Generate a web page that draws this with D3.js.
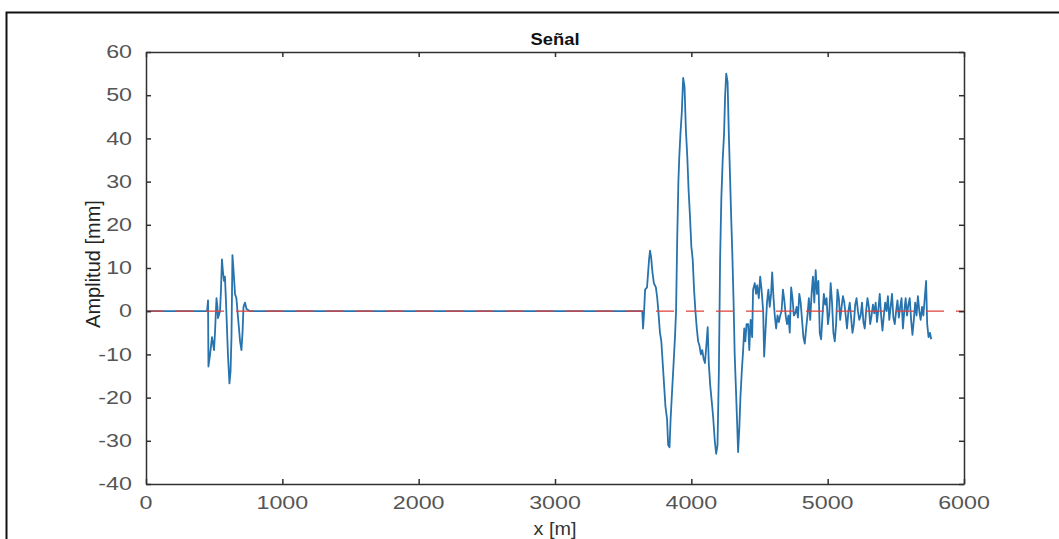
<!DOCTYPE html>
<html>
<head>
<meta charset="utf-8">
<script src="https://cdn.jsdelivr.net/npm/d3@7"></script>
<style>
  html, body { margin: 0; padding: 0; background: #fff; }
  svg { display: block; }
</style>
</head>
<body>
<svg id="chart" width="1059" height="539"></svg>
<script>
// Axis limits and ticks
const xDomain = [0, 6000];
const yDomain = [-40, 60];
const xTicks = [0, 1000, 2000, 3000, 4000, 5000, 6000];
const yTicks = [-40, -30, -20, -10, 0, 10, 20, 30, 40, 50, 60];
const refLevel = 0;

// First burst (x in m, amplitude in mm)
const burst1X = [0, 448, 455, 458, 470, 484, 499, 506, 517, 524, 528, 543, 550, 557, 565, 572, 579, 587, 594, 601, 612, 620, 627, 634, 641, 653, 663, 675, 682, 690, 700, 708, 715, 726, 737, 748, 763];
const burst1Y = [0, 0, 2.5, -12.8, -10, -6, -9, -5, 3, 1, -1.6, 0, 5, 12, 9, 7, 8, 2, -4, -10, -16.7, -14, -6, 13, 10, 4, 3, -1.5, -4, -7, -9, -5, 1, 2, 0.5, 0.3, 0];

// Second burst
const burst2X = [3640, 3646, 3652, 3661, 3675, 3690, 3697, 3705, 3715, 3725, 3740, 3750, 3758, 3770, 3780, 3790, 3800, 3810, 3822, 3830, 3840, 3848, 3858, 3870, 3880, 3888, 3896, 3905, 3912, 3920, 3930, 3940, 3950, 3960, 3970, 3980, 3990, 4000, 4010, 4020, 4030, 4040, 4050, 4060, 4070, 4080, 4090, 4100, 4110, 4120, 4128, 4138, 4150, 4160, 4172, 4182, 4192, 4202, 4211, 4220, 4230, 4240, 4248, 4256, 4266, 4275, 4285, 4292, 4300, 4310, 4318, 4326, 4335, 4343, 4352, 4360, 4370, 4380, 4388, 4396];
const burst2Y = [0, -4, -1, 5, 5.5, 12, 14, 12.5, 9, 6.5, 5.5, 3, 0, -5, -7, -12, -17, -22, -25, -31, -31.5, -25, -19, -12, -6, 0, 16, 30, 36, 41, 46, 54, 52, 42, 36, 28, 22, 15, 12, 5, 0, -4, -7, -8, -10, -9, -11, -12, -8, -3.7, -12, -17, -21, -24.5, -30, -33, -31, -14, 12, 26, 35, 41, 50, 55, 53, 41, 30, 22, 14, 2, -10, -17, -25, -32.6, -27, -20, -14, -9, -4, -7];

// Decaying tail after the second burst
const tailX = [4405, 4417, 4425, 4435, 4446, 4453, 4465, 4475, 4483, 4495, 4505, 4515, 4527, 4534, 4545, 4555, 4565, 4575, 4585, 4593, 4603, 4612, 4622, 4632, 4642, 4652, 4662, 4672, 4682, 4692, 4702, 4712, 4722, 4732, 4742, 4752, 4762, 4772, 4782, 4792, 4802, 4812, 4822, 4832, 4842, 4852, 4862, 4872, 4882, 4892, 4902, 4912, 4922, 4932, 4942, 4952, 4962, 4972, 4982, 4992, 5002, 5012, 5022, 5032, 5042, 5052, 5062, 5072, 5082, 5092, 5102, 5112, 5122, 5132, 5142, 5152, 5162, 5172, 5182, 5192, 5202, 5212, 5222, 5232, 5242, 5252, 5262, 5272, 5282, 5292, 5302, 5312, 5322, 5332, 5342, 5352, 5362, 5372, 5382, 5392, 5402, 5412, 5422, 5432, 5442, 5452, 5462, 5472, 5482, 5492, 5502, 5512, 5522, 5532, 5542, 5552, 5562, 5572, 5582, 5592, 5602, 5612, 5622, 5632, 5642, 5652, 5662, 5672, 5682, 5692, 5702, 5712, 5722, 5730, 5740, 5750, 5760];
const tailY = [-3, -3, -9, -2, -6, 5, 6.5, 4, 6, 3, 8, 5, 0, -10.5, -4, 2, 5, 1, 4, 9, 3, -1, -4, -1, -2.5, -1, 0, 5, 2.5, -1, -3, -1, -5, 5.5, 3, -1, -0.5, 1, -1.5, 4, 2, -2, -6, -7.5, -4, -1, 3, -2, 4, 8, 2, 9.5, 4, 7, -5, -6.5, -1, 4, 1.5, 3, -3, -0.5, 6.5, 2, -5, -7, -3, 5, 3, -2, 1, 3.5, 2, -1, -4, 0, 2, -1.5, -5, -3, 1.5, 3, 0, -2, -1, 2, -2.5, -4, 0, 3, 1, -3, -1, 1.5, -0.5, 2, -2.5, 0.5, 4, -1, -4.5, -1, 2, 0, 3.5, -2, 1, 4, -1.5, -3, 0, 2.5, -1.5, 1, 3, -4, 0, 3, -1, 1.5, 3, -2, -5.5, -2, 2, -1, 3.5, 0, -2, 1, -1, 3, 7, -3, -6, -5, -6.5];

const sigX = burst1X.concat(burst2X, tailX);
const sigY = burst1Y.concat(burst2Y, tailY);
const signal = sigX.map((x, i) => ({ x, y: sigY[i] }));

// Layout
const W = 1059, H = 539;
const plot = { left: 146, right: 964, top: 52, bottom: 484 };
const font = "'Liberation Sans', Arial, Helvetica, sans-serif";

const svg = d3.select("#chart");

const x = d3.scaleLinear().domain(xDomain).range([plot.left, plot.right]);
const y = d3.scaleLinear().domain(yDomain).range([plot.bottom, plot.top]);

// Outer figure frame
svg.append("path")
  .attr("d", `M6.5,${H} V12.5 H${W}`)
  .attr("fill", "none")
  .attr("stroke", "#111")
  .attr("stroke-width", 2);

svg.append("defs").append("clipPath").attr("id", "clip")
  .append("rect")
  .attr("x", plot.left).attr("y", plot.top)
  .attr("width", plot.right - plot.left).attr("height", plot.bottom - plot.top);

// Signal trace
const line = d3.line().x(d => x(d.x)).y(d => y(d.y));
svg.append("path")
  .datum(signal)
  .attr("clip-path", "url(#clip)")
  .attr("d", line)
  .attr("fill", "none")
  .attr("stroke", "#2773ad")
  .attr("stroke-width", 1.8)
  .attr("stroke-linejoin", "round");

// Zero reference (dashed red)
svg.append("line")
  .attr("x1", x(xDomain[0])).attr("x2", x(xDomain[1]))
  .attr("y1", y(refLevel)).attr("y2", y(refLevel))
  .attr("stroke", "#e0403a")
  .attr("stroke-width", 1.3)
  .attr("stroke-dasharray", "18,12");

// Axes: ticks pointing inward on all four sides, no auto labels
const tickLen = 5;
const axisColor = "#303030";
function styleAxis(g) {
  g.selectAll("path").attr("stroke", axisColor).attr("stroke-width", 1.5);
  g.selectAll("line").attr("stroke", axisColor).attr("stroke-width", 1.5);
  g.selectAll("text").remove();
}
svg.append("g").attr("transform", `translate(0,${plot.bottom})`)
  .call(d3.axisBottom(x).tickValues(xTicks).tickSizeInner(-tickLen).tickSizeOuter(0)).call(styleAxis);
svg.append("g").attr("transform", `translate(0,${plot.top})`)
  .call(d3.axisTop(x).tickValues(xTicks).tickSizeInner(-tickLen).tickSizeOuter(0)).call(styleAxis);
svg.append("g").attr("transform", `translate(${plot.left},0)`)
  .call(d3.axisLeft(y).tickValues(yTicks).tickSizeInner(-tickLen).tickSizeOuter(0)).call(styleAxis);
svg.append("g").attr("transform", `translate(${plot.right},0)`)
  .call(d3.axisRight(y).tickValues(yTicks).tickSizeInner(-tickLen).tickSizeOuter(0)).call(styleAxis);

// Tick labels (wide face)
const labelColor = "#555";
const labelSize = 17.5;
const stretch = 1.33;
svg.append("g").selectAll("text").data(xTicks).join("text")
  .attr("transform", d => `translate(${x(d)},509) scale(${stretch},1)`)
  .attr("text-anchor", "middle")
  .attr("font-family", font).attr("font-size", labelSize)
  .attr("fill", labelColor)
  .text(d => d);

svg.append("g").selectAll("text").data(yTicks).join("text")
  .attr("transform", d => `translate(132,${y(d)}) scale(${stretch},1)`)
  .attr("text-anchor", "end")
  .attr("dy", "0.35em")
  .attr("font-family", font).attr("font-size", labelSize)
  .attr("fill", labelColor)
  .text(d => d);

// Title
svg.append("text")
  .attr("transform", `translate(${(plot.left + plot.right) / 2},45) scale(1.08,1)`)
  .attr("text-anchor", "middle")
  .attr("font-family", font).attr("font-size", 17).attr("font-weight", "bold")
  .attr("fill", "#111")
  .text("Señal");

// Axis titles
svg.append("text")
  .attr("transform", `translate(${(plot.left + plot.right) / 2},535) scale(1.1,1)`)
  .attr("text-anchor", "middle")
  .attr("font-family", font).attr("font-size", 18)
  .attr("fill", "#333")
  .text("x [m]");

svg.append("text")
  .attr("transform", `translate(100,${(plot.top + plot.bottom) / 2 - 4}) rotate(-90)`)
  .attr("text-anchor", "middle")
  .attr("font-family", font).attr("font-size", 20)
  .attr("fill", "#222")
  .text("Amplitud [mm]");
</script>
</body>
</html>
